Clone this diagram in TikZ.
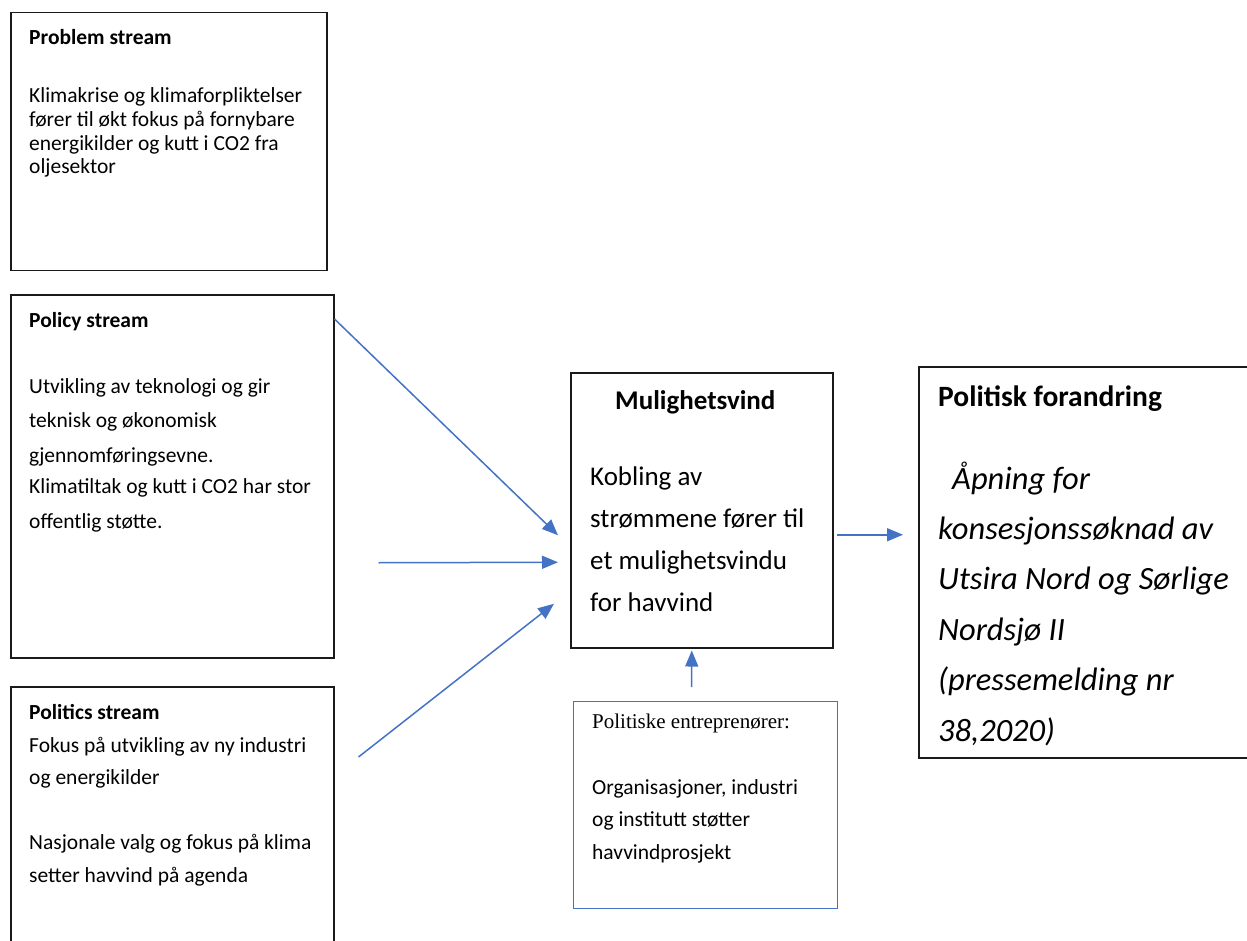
\documentclass[tikz,border=0pt]{standalone}
\usepackage{fontspec}
\setmainfont{Carlito}
\newfontfamily\timesfont{Liberation Serif}
\usetikzlibrary{arrows.meta,calc}
\definecolor{flowblue}{HTML}{4472C4}
\definecolor{boxline}{HTML}{1A1A1A}

\begin{document}
\begin{tikzpicture}[x=1pt,y=-1pt,
  box/.style={draw=boxline, line width=1.5pt, inner sep=0pt, anchor=north west},
  bluebox/.style={draw=flowblue, line width=1.4pt, inner sep=0pt, anchor=north west},
  flow/.style={draw=flowblue, line width=1.5pt, -{Triangle[length=16pt,width=13pt]}},
  % multi-line text nodes: the base anchor sits on the last line
  txt/.style={anchor=base west, align=left, inner sep=0pt},
  smallhead/.style={font=\fontsize{21.5}{24}\selectfont\bfseries}]

\useasboundingbox (0,0) rectangle (1247,941);
\clip (0,0) rectangle (1247,941);

% stream boxes on the left
\node[box, minimum width=316pt, minimum height=258pt] (problem) at (10,12) {};
\node[box, minimum width=323pt, minimum height=363pt] (policy) at (10,294) {};
\node[box, minimum width=323pt, minimum height=280pt] (politics) at (10,686) {};

% window of opportunity, entrepreneurs and outcome
\node[box, minimum width=262pt, minimum height=275pt] (window) at (570,372) {};
\node[bluebox, minimum width=264pt, minimum height=207pt] (entre) at (573,701) {};
\node[box, minimum width=340pt, minimum height=391pt] (change) at (918,366) {};

% problem stream text
\node[txt, smallhead] (problemhead) at (29,45) {Problem stream};
\node[txt, font=\fontsize{21.5}{23.7}\selectfont] (problembody) at (29,174)
  {Klimakrise og klimaforpliktelser\\
   fører til økt fokus på fornybare\\
   energikilder og kutt i CO2 fra\\
   oljesektor};

% policy stream text
\node[txt, smallhead] (policyhead) at (29,327) {Policy stream};
\node[txt, font=\fontsize{21.5}{34.5}\selectfont] (policybody) at (29,528)
  {Utvikling av teknologi og gir\\
   teknisk og økonomisk\\
   gjennomføringsevne.\\[-3pt]
   Klimatiltak og kutt i CO2 har stor\\
   offentlig støtte.};

% politics stream text
\node[txt, smallhead] (politicshead) at (29,719) {Politics stream};
\node[txt, font=\fontsize{21.5}{32.5}\selectfont] (politicsbody) at (29,882)
  {Fokus på utvikling av ny industri\\
   og energikilder\\[32.5pt]
   Nasjonale valg og fokus på klima\\
   setter havvind på agenda};

% window text
\node[txt, font=\fontsize{27}{30}\selectfont\bfseries] (windowhead) at (615,409) {Mulighetsvind};
\node[txt, font=\fontsize{27}{42}\selectfont] (windowbody) at (590,611)
  {Kobling av\\
   strømmene fører til\\
   et mulighetsvindu\\
   for havvind};

% entrepreneurs text
\node[txt, font=\timesfont\fontsize{21}{24}\selectfont] (entrehead) at (592,728) {Politiske entreprenører:};
\node[txt, font=\fontsize{21.5}{32.5}\selectfont] (entrebody) at (592,859)
  {Organisasjoner, industri\\
   og institutt støtter\\
   havvindprosjekt};

% outcome text
\node[txt, font=\fontsize{29.5}{32}\selectfont\bfseries] (changehead) at (938,406) {Politisk forandring};
\node[txt, font=\fontsize{32.5}{50.4}\selectfont\itshape] (changebody) at (938,741)
  {\hspace*{14pt}Åpning for\\
   konsesjonssøknad av\\
   Utsira Nord og Sørlige\\
   Nordsjø II\\
   (pressemelding nr\\
   38,2020)};

% connectors
\coordinate (s1) at ($(policy.north east)+(0,25)$);
\coordinate (e1) at ($(window.west)+(-12,25)$);
\coordinate (s2) at ($(policy.east)+(44,86.5)$);
\coordinate (e2) at ($(window.west)+(-12,52)$);
\coordinate (s3) at ($(politics.north east)+(24,71)$);
\coordinate (e3) at ($(window.west)+(-16,93.5)$);
\coordinate (s4) at ($(entre.north)+(-14,-14)$);
\coordinate (e4) at ($(window.south)+(-10,2)$);
\coordinate (s5) at ($(window.east)+(3,24.5)$);
\coordinate (e5) at ($(change.west)+(-15,-27.5)$);

\draw[flow] (s1) -- (e1);
\draw[flow] (s2) -- (e2);
\draw[flow] (s3) -- (e3);
\draw[flow] (s4) -- (e4);
\draw[flow] (s5) -- (e5);
\end{tikzpicture}
\end{document}
